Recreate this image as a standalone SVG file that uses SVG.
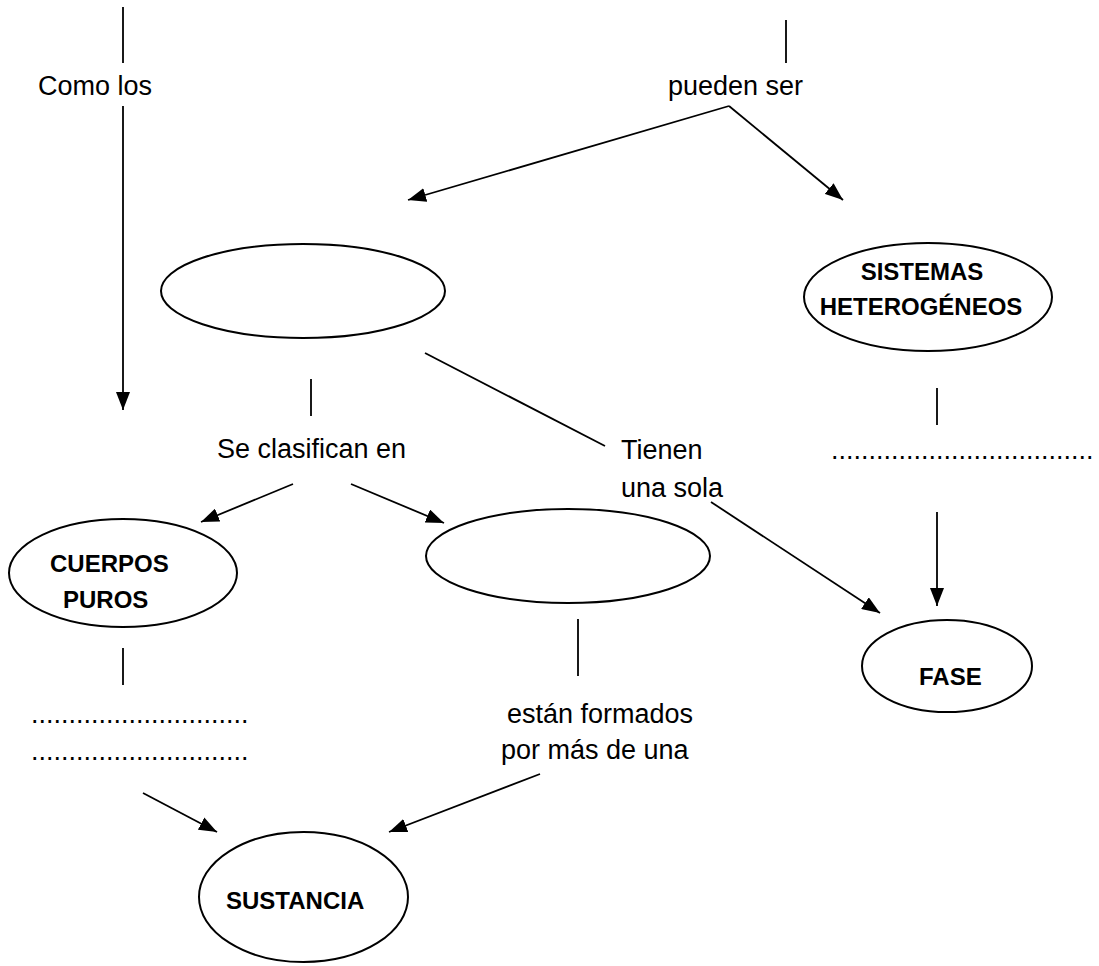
<svg xmlns="http://www.w3.org/2000/svg" width="1099" height="966" viewBox="0 0 1099 966">
<style>
.bg{fill:#ffffff}
.ln{stroke:#000;stroke-width:1.8;fill:none}
.arr{stroke:#000;stroke-width:1.8;fill:none;marker-end:url(#ah)}
.el{fill:#fff;stroke:#000;stroke-width:2}
.t{font-family:"Liberation Sans",Arial,sans-serif;font-size:27px;fill:#000}
.d{font-family:"Liberation Sans",Arial,sans-serif;font-size:27px;fill:#000}
.b{font-family:"Liberation Sans",Arial,sans-serif;font-size:24px;font-weight:bold;fill:#000}
</style>
<defs>
<marker id="ah" viewBox="0 0 18 14" refX="18" refY="7" markerWidth="18" markerHeight="14" markerUnits="userSpaceOnUse" orient="auto">
<path d="M0,0 L18,7 L0,14 z" fill="#000"/>
</marker>
</defs>
<rect class="bg" x="0" y="0" width="1099" height="966"/>
<g id="connectors">
<line class="ln" x1="123" y1="7" x2="123" y2="63"/>
<line class="arr" x1="123" y1="106" x2="123" y2="410"/>
<line class="ln" x1="786" y1="20" x2="786" y2="63"/>
<line class="arr" x1="729" y1="106" x2="408" y2="200"/>
<line class="arr" x1="729" y1="106" x2="843" y2="200"/>
<line class="ln" x1="425" y1="353" x2="605" y2="446"/>
<line class="ln" x1="311" y1="379" x2="311" y2="416"/>
<line class="arr" x1="293" y1="484" x2="201" y2="522"/>
<line class="arr" x1="351" y1="484" x2="444" y2="523"/>
<line class="arr" x1="711" y1="502" x2="880" y2="613"/>
<line class="ln" x1="937" y1="388" x2="937" y2="425"/>
<line class="arr" x1="937" y1="512" x2="937" y2="606"/>
<line class="ln" x1="123" y1="648" x2="123" y2="685"/>
<line class="ln" x1="578" y1="619" x2="578" y2="676"/>
<line class="arr" x1="143" y1="793" x2="217" y2="832"/>
<line class="arr" x1="540" y1="774" x2="389" y2="832"/>
</g>
<g id="label-como-los"><text class="t" x="38" y="95">Como los</text></g>
<g id="label-pueden-ser"><text class="t" x="668" y="95">pueden ser</text></g>
<g id="node-empty-top"><ellipse class="el" cx="303" cy="291" rx="142" ry="47"/></g>
<g id="node-sistemas">
<ellipse class="el" cx="928" cy="297" rx="124" ry="54"/>
<text class="b" x="922" y="280" text-anchor="middle">SISTEMAS</text>
<text class="b" x="921" y="315" text-anchor="middle">HETEROGÉNEOS</text>
</g>
<g id="label-se-clasifican"><text class="t" x="217" y="458">Se clasifican en</text></g>
<g id="label-tienen">
<text class="t" x="621" y="459">Tienen</text>
<text class="t" x="621" y="497">una sola</text>
</g>
<g id="label-dots-right"><text class="d" x="831" y="459">...................................</text></g>
<g id="node-cuerpos">
<ellipse class="el" cx="123" cy="573" rx="114" ry="54"/>
<text class="b" x="50" y="572">CUERPOS</text>
<text class="b" x="63" y="608">PUROS</text>
</g>
<g id="node-empty-mid"><ellipse class="el" cx="568" cy="556" rx="142" ry="47"/></g>
<g id="node-fase">
<ellipse class="el" cx="947" cy="666" rx="85" ry="46"/>
<text class="b" x="919" y="685">FASE</text>
</g>
<g id="label-dots-left">
<text class="d" x="31" y="723">.............................</text>
<text class="d" x="31" y="760">.............................</text>
</g>
<g id="label-estan">
<text class="t" x="507" y="723">están formados</text>
<text class="t" x="501" y="759">por más de una</text>
</g>
<g id="node-sustancia">
<ellipse class="el" cx="303.5" cy="897" rx="104.5" ry="65"/>
<text class="b" x="226" y="909">SUSTANCIA</text>
</g>
</svg>
